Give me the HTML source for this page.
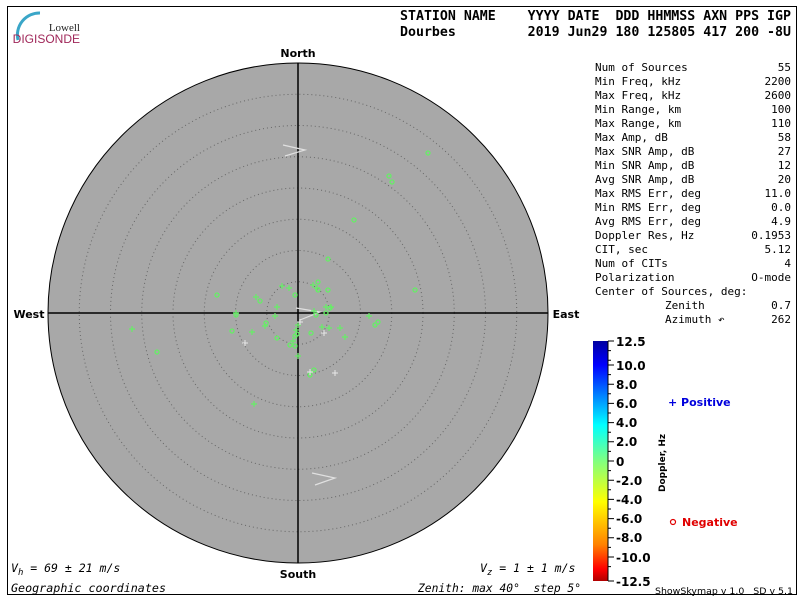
<!DOCTYPE html>
<html><head><style>
body{margin:0;background:#fff;}
svg{display:block;}
</style></head><body>
<svg width="800" height="600" xmlns="http://www.w3.org/2000/svg" font-family="DejaVu Sans Mono, Liberation Mono, monospace">
<rect x="0" y="0" width="800" height="600" fill="#fff"/>
<rect x="7.5" y="6.5" width="789" height="588" fill="none" stroke="#000" stroke-width="1"/>
<!-- logo -->
<path d="M18,40 A22,22 0 0 1 40,13" fill="none" stroke="#3aa6c8" stroke-width="3"/>
<text x="80" y="31" font-family="Liberation Serif, serif" font-size="11" text-anchor="end" fill="#222">Lowell</text>
<text x="80" y="43" font-family="Liberation Sans, sans-serif" font-size="12" text-anchor="end" fill="#a0285a">DIGISONDE</text>
<!-- header -->
<text x="400" y="20" font-size="13" font-weight="bold" xml:space="preserve" textLength="391" lengthAdjust="spacingAndGlyphs">STATION NAME    YYYY DATE  DDD HHMMSS AXN PPS IGP</text>
<text x="400" y="36" font-size="13" font-weight="bold" xml:space="preserve" textLength="391" lengthAdjust="spacingAndGlyphs">Dourbes         2019 Jun29 180 125805 417 200 -8U</text>
<!-- sky -->
<circle cx="298" cy="313" r="250" fill="#a8a8a8" stroke="#000" stroke-width="1"/>
<g fill="none" stroke="#666" stroke-width="1" stroke-dasharray="1,3">
<circle cx="298" cy="313" r="31.25"/><circle cx="298" cy="313" r="62.5"/><circle cx="298" cy="313" r="93.75"/>
<circle cx="298" cy="313" r="125"/><circle cx="298" cy="313" r="156.25"/><circle cx="298" cy="313" r="187.5"/><circle cx="298" cy="313" r="218.75"/>
</g>
<line x1="298" y1="63" x2="298" y2="563" stroke="#000" stroke-width="1.5"/>
<line x1="48" y1="313" x2="548" y2="313" stroke="#000" stroke-width="1.5"/>
<g font-family="DejaVu Sans, Liberation Sans, sans-serif" font-weight="bold" font-size="11" text-anchor="middle">
<text x="298" y="57">North</text><text x="298" y="578">South</text>
<text x="29" y="318">West</text><text x="566" y="318">East</text>
</g>
<!-- arrows -->
<g fill="none" stroke="#e0e0e0" stroke-width="1.2">
<polyline points="283,145 305,150 285,156"/>
<polyline points="312,473 335,478 315,485"/>
<polyline points="296,308 320,312 300,320"/>
</g>
<!-- circles -->
<g fill="none" stroke="#66ee66" stroke-width="1.3">
<circle cx="428" cy="153" r="2"/><circle cx="389" cy="176" r="2"/><circle cx="392" cy="182" r="2"/><circle cx="354" cy="220" r="2"/>
<circle cx="328" cy="259" r="2"/><circle cx="318" cy="282" r="2"/><circle cx="415" cy="290" r="2"/><circle cx="217" cy="295" r="2"/>
<circle cx="260" cy="301" r="2"/><circle cx="236" cy="315" r="2"/><circle cx="326" cy="313" r="2"/><circle cx="330" cy="308" r="2"/>
<circle cx="378" cy="322" r="2"/><circle cx="375" cy="325" r="2"/><circle cx="266" cy="323" r="2"/><circle cx="232" cy="331" r="2"/>
<circle cx="277" cy="338" r="2"/><circle cx="295" cy="336" r="2"/><circle cx="297" cy="334" r="2"/><circle cx="311" cy="333" r="2"/>
<circle cx="290" cy="345" r="2"/><circle cx="295" cy="346" r="2"/><circle cx="314" cy="370" r="2"/><circle cx="310" cy="375" r="2"/>
<circle cx="157" cy="352" r="2"/><circle cx="295" cy="295" r="2"/><circle cx="316" cy="315" r="2"/><circle cx="328" cy="290" r="2"/>
<circle cx="318" cy="290" r="2"/>
</g>
<!-- plus -->
<g stroke="#66ee66" stroke-width="1.2" fill="none">
<path d="M310,285h6M313,282v6 M314,288h6M317,285v6 M279,286h6M282,283v6 M253,297h6M256,294v6 M233,313h6M236,310v6 M272,316h6M275,313v6 M295,356h6M298,353v6 M251,404h6M254,401v6 M129,329h6M132,326v6 M337,328h6M340,325v6 M326,328h6M329,325v6 M342,337h6M345,334v6 M319,327h6M322,324v6 M295,325h6M298,322v6 M262,326h6M265,323v6 M249,332h6M252,329v6 M323,307h6M326,304v6 M328,307h6M331,304v6 M311,311h6M314,308v6 M274,307h6M277,304v6 M293,330h6M296,327v6 M290,341h6M293,338v6 M366,316h6M369,313v6 M286,288h6M289,285v6"/>
</g>
<g stroke="#e8e8e8" stroke-width="1" fill="none">
<path d="M242,343h6M245,340v6 M332,373h6M335,370v6 M307,372h6M310,369v6 M321,333h6M324,330v6 M297,322h6M300,319v6"/>
</g>
<!-- stats -->
<g font-size="11" fill="#000">
<text x="595" y="71">Num of Sources</text><text x="791" y="71" text-anchor="end">55</text>
<text x="595" y="85">Min Freq, kHz</text><text x="791" y="85" text-anchor="end">2200</text>
<text x="595" y="99">Max Freq, kHz</text><text x="791" y="99" text-anchor="end">2600</text>
<text x="595" y="113">Min Range, km</text><text x="791" y="113" text-anchor="end">100</text>
<text x="595" y="127">Max Range, km</text><text x="791" y="127" text-anchor="end">110</text>
<text x="595" y="141">Max Amp, dB</text><text x="791" y="141" text-anchor="end">58</text>
<text x="595" y="155">Max SNR Amp, dB</text><text x="791" y="155" text-anchor="end">27</text>
<text x="595" y="169">Min SNR Amp, dB</text><text x="791" y="169" text-anchor="end">12</text>
<text x="595" y="183">Avg SNR Amp, dB</text><text x="791" y="183" text-anchor="end">20</text>
<text x="595" y="197">Max RMS Err, deg</text><text x="791" y="197" text-anchor="end">11.0</text>
<text x="595" y="211">Min RMS Err, deg</text><text x="791" y="211" text-anchor="end">0.0</text>
<text x="595" y="225">Avg RMS Err, deg</text><text x="791" y="225" text-anchor="end">4.9</text>
<text x="595" y="239">Doppler Res, Hz</text><text x="791" y="239" text-anchor="end">0.1953</text>
<text x="595" y="253">CIT, sec</text><text x="791" y="253" text-anchor="end">5.12</text>
<text x="595" y="267">Num of CITs</text><text x="791" y="267" text-anchor="end">4</text>
<text x="595" y="281">Polarization</text><text x="791" y="281" text-anchor="end">O-mode</text>
<text x="595" y="295">Center of Sources, deg:</text>
<text x="665" y="309">Zenith</text><text x="791" y="309" text-anchor="end">0.7</text>
<text x="665" y="323">Azimuth ↶</text><text x="791" y="323" text-anchor="end">262</text>
</g>
<!-- colorbar -->
<defs><linearGradient id="cb" x1="0" y1="0" x2="0" y2="1">
<stop offset="0" stop-color="#0000a0"/><stop offset="0.1" stop-color="#0000ff"/><stop offset="0.35" stop-color="#00ffff"/>
<stop offset="0.5" stop-color="#80ff80"/><stop offset="0.67" stop-color="#ffff00"/><stop offset="0.85" stop-color="#ff8000"/>
<stop offset="0.95" stop-color="#ff0000"/><stop offset="1" stop-color="#b00000"/></linearGradient></defs>
<rect x="593" y="341" width="15" height="240" fill="url(#cb)"/>
<g stroke="#000" stroke-width="1">
<line x1="608" y1="341" x2="608" y2="581"/>
<path d="M608,341h6M608,350.6h3M608,360.2h3M608,365h6M608,374.6h3M608,384.2h6M608,393.8h3M608,403.4h6M608,413h3M608,422.6h6M608,432.2h3M608,441.8h6M608,451.4h3M608,461h6M608,470.6h3M608,480.2h6M608,489.8h3M608,499.4h6M608,509h3M608,518.6h6M608,528.2h3M608,537.8h6M608,547.4h3M608,557h6M608,566.6h3M608,581h6"/>
</g>
<g font-family="DejaVu Sans, Liberation Sans, sans-serif" font-size="12" font-weight="bold">
<text x="616" y="346">12.5</text><text x="616" y="370">10.0</text><text x="616" y="389">8.0</text><text x="616" y="408">6.0</text>
<text x="616" y="427">4.0</text><text x="616" y="446">2.0</text><text x="616" y="466">0</text><text x="616" y="485">-2.0</text>
<text x="616" y="504">-4.0</text><text x="616" y="523">-6.0</text><text x="616" y="542">-8.0</text><text x="616" y="562">-10.0</text><text x="616" y="586">-12.5</text>
</g>
<text transform="translate(665,492) rotate(-90)" font-family="DejaVu Sans, sans-serif" font-size="9" font-weight="bold">Doppler, Hz</text>
<text x="668" y="406" font-family="DejaVu Sans, sans-serif" font-size="11" font-weight="bold" fill="#0000dd">+ Positive</text>
<circle cx="673" cy="522" r="2.5" fill="none" stroke="#e00000" stroke-width="1.2"/>
<text x="682" y="526" font-family="DejaVu Sans, sans-serif" font-size="11" font-weight="bold" fill="#e00000">Negative</text>
<text x="655" y="594" font-family="DejaVu Sans, sans-serif" font-size="9" xml:space="preserve" textLength="138" lengthAdjust="spacingAndGlyphs">ShowSkymap v 1.0   SD v 5.1</text>
<!-- bottom texts -->
<g font-size="11.5" font-style="italic">
<text x="11" y="572">V<tspan font-size="9" dy="3">h</tspan><tspan dy="-3"> = 69 ± 21 m/s</tspan></text>
<text x="480" y="572">V<tspan font-size="9" dy="3">z</tspan><tspan dy="-3"> = 1 ± 1 m/s</tspan></text>
<text x="11" y="592" textLength="155" lengthAdjust="spacingAndGlyphs">Geographic coordinates</text>
<text x="418" y="592" xml:space="preserve" textLength="163" lengthAdjust="spacingAndGlyphs">Zenith: max 40°  step 5°</text>
</g>
</svg>
</body></html>
